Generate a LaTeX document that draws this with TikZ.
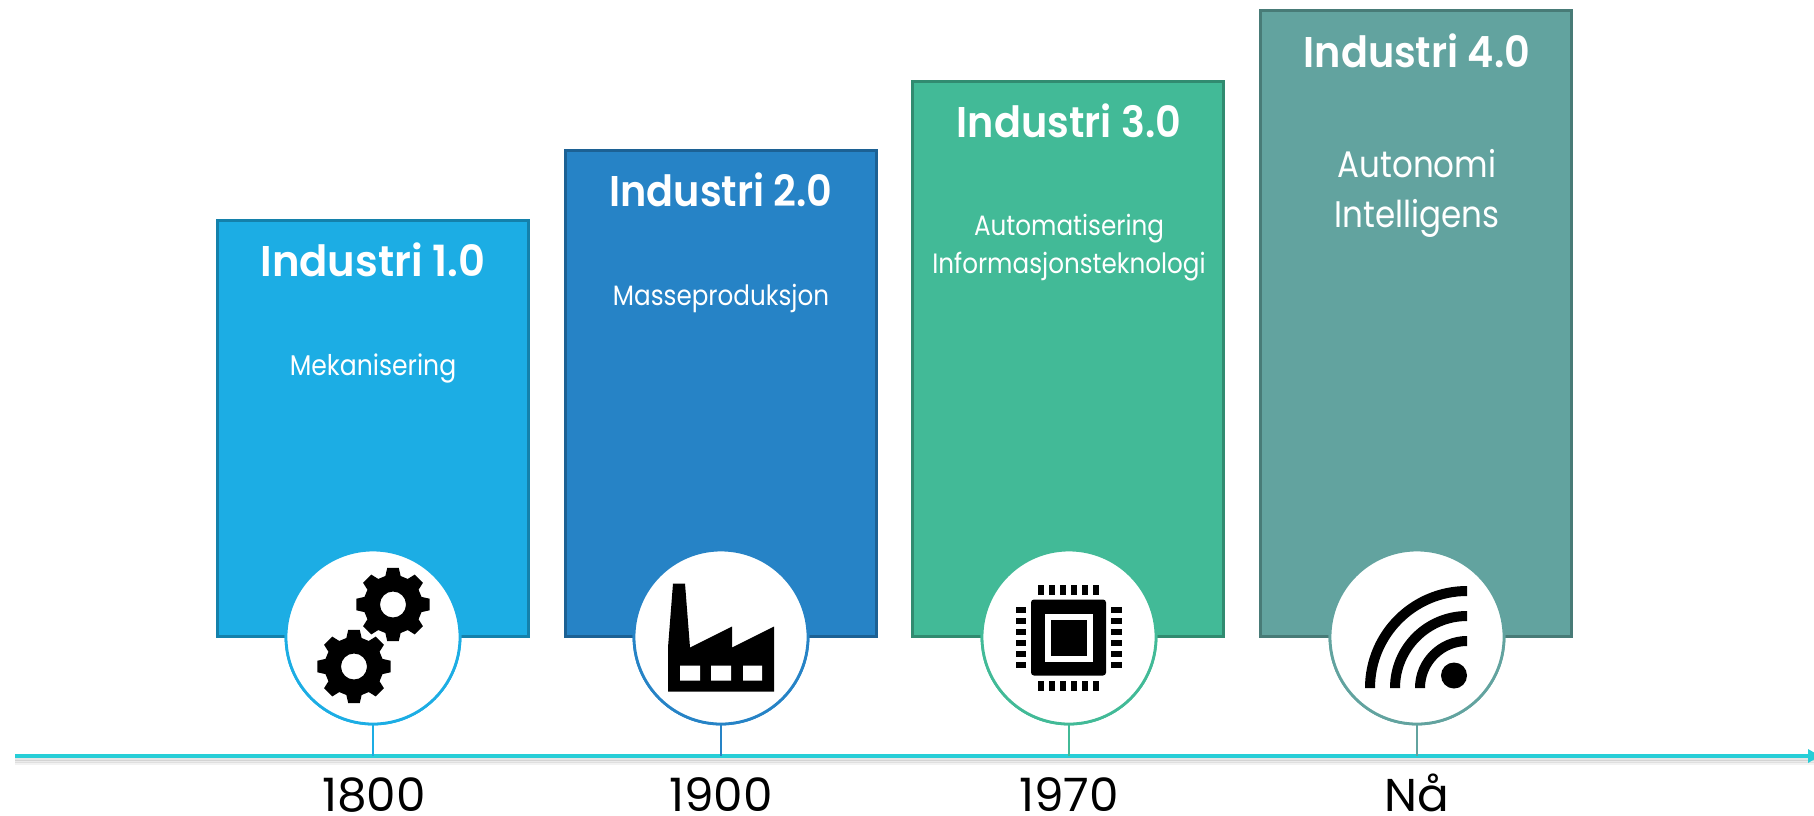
\documentclass[tikz,border=0pt]{standalone}
\usepackage{fontspec}
\newfontfamily\twreg[FakeStretch=0.88]{Poppins}
\newfontfamily\twyear[FakeStretch=1.02]{Poppins}
\newfontfamily\twbold[FakeStretch=0.97]{Poppins SemiBold}
\newfontfamily\twboldn[FakeStretch=0.925]{Poppins SemiBold}
\definecolor{cA}{HTML}{1CADE4}\definecolor{sA}{HTML}{1481AB}
\definecolor{cB}{HTML}{2683C6}\definecolor{sB}{HTML}{1C6194}
\definecolor{cC}{HTML}{42BA97}\definecolor{sC}{HTML}{318B70}
\definecolor{cD}{HTML}{62A39F}\definecolor{sD}{HTML}{487B77}
\definecolor{axis}{HTML}{27CED7}
\tikzset{
  panel/.style={draw=#1,line width=3pt,anchor=north west,inner sep=0pt,minimum width=311pt},
  disc/.style={circle,draw=#1,fill=white,line width=2.8pt,minimum size=174pt,inner sep=0pt},
  tick/.style={draw=#1,line width=1.3pt},
  head/.style={text=white,font=\twbold\fontsize{43}{43}\selectfont},
  headn/.style={text=white,font=\twboldn\fontsize{43}{43}\selectfont},
  sub/.style={text=white,font=\twreg\fontsize{#1}{#1}\selectfont},
  yearlab/.style={text=black,anchor=base,inner sep=0pt,text depth=0pt,font=\twyear\fontsize{46}{46}\selectfont},
  icon/.style={fill=black,draw=none}
}
\newcommand{\cog}[2]{%
  \begin{scope}[shift={(#1,#2)}]
  \fill[black,even odd rule]
    \foreach \a [count=\i from 0] in {0,45,...,315} {
      \ifnum\i=0 (\a-9:37) \else -- (\a-9:37) \fi
      -- (\a+9:37) -- (\a+15:29.5) -- (\a+30:29.5)
    } -- cycle
    (0,0) circle (13);
  \end{scope}}
\begin{document}
\begin{tikzpicture}[x=1pt,y=-1pt]
\useasboundingbox (0,0) rectangle (1814,816);
% panels
\node[panel=sA,fill=cA,minimum height=416pt] (p1) at (216,218.5) {};
\node[panel=sB,fill=cB,minimum height=486pt] (p2) at (564,148.5) {};
\node[panel=sC,fill=cC,minimum height=555pt] (p3) at (911,79.5) {};
\node[panel=sD,fill=cD,minimum height=625pt] (p4) at (1259,9.5) {};
% titles
\node[head] (t1) at (373,260) {Industri 1.0};
\node[headn] (t2) at (721,190) {Industri 2.0};
\node[headn] (t3) at (1069,121) {Industri 3.0};
\node[headn] (t4) at (1417,51) {Industri 4.0};
\node[sub=28.5] (s1) at (373,368) {Mekanisering};
\node[sub=28] (s2) at (721,298) {Masseproduksjon};
\node[sub=28] (s3a) at (1069,229) {Automatisering};
\node[sub=28] (s3b) at (1069,267) {Informasjonsteknologi};
\node[sub=37] (s4a) at (1417,164) {Autonomi};
\node[sub=37] (s4b) at (1417,218) {Intelligens};
% axis with soft shadow
\coordinate (axL) at (15,756);
\coordinate (axR) at (1814,756);
\foreach \d/\o in {3/0.10,5/0.08,7/0.05}
  \draw[black,opacity=\o,line width=3pt] ([yshift=-\d pt]axL) -- ([yshift=-\d pt]axR);
\draw[axis,line width=4.4pt] (axL) -- (axR);
\fill[axis] (1808,749) -- (1814,752.5) -- (1814,759.5) -- (1808,763) -- cycle;
% discs and ticks
\coordinate (a1) at (373,756);\coordinate (a2) at (721,756);
\coordinate (a3) at (1069,756);\coordinate (a4) at (1417,756);
\node[disc=cA] (d1) at (373,637) {};
\node[disc=cB] (d2) at (721,637) {};
\node[disc=cC] (d3) at (1069,637) {};
\node[disc=cD] (d4) at (1417,637) {};
\draw[tick=cA] (d1) -- (a1);
\draw[tick=cB] (d2) -- (a2);
\draw[tick=cC] (d3) -- (a3);
\draw[tick=cD] (d4) -- (a4);
\node[disc=cA] at (d1) {};
\node[disc=cB] at (d2) {};
\node[disc=cC] at (d3) {};
\node[disc=cD] at (d4) {};
% years
\node[yearlab] (y1) at (374,811) {1800};
\node[yearlab] (y2) at (721,811) {1900};
\node[yearlab] (y3) at (1069,811) {1970};
\node[yearlab] (y4) at (1417,811) {Nå};
\begin{scope}[yshift=1.5pt]
% gears
\cog{393}{606}
\cog{354}{668}
% factory
\fill[icon] (673,585) -- (685,585) -- (690,649) -- (732,628) -- (732,649) -- (774,628) -- (774,693) -- (668,693) -- (668,649) -- cycle;
\fill[white] (680,667) rectangle (700,682) (711,667) rectangle (731,682) (743,667) rectangle (762,682);
% chip
\fill[icon,rounded corners=3pt] (1031,601) rectangle (1106,677);
\fill[white] (1045,615) rectangle (1093,663);
\fill[icon] (1051,621) rectangle (1087,657);
\foreach \i in {0,...,5} {
  \fill[icon] (1038+11*\i,586) rectangle (1043.6+11*\i,596);
  \fill[icon] (1038+11*\i,682) rectangle (1043.6+11*\i,692);
  \fill[icon] (1016,608.5+11*\i) rectangle (1026,614.5+11*\i);
  \fill[icon] (1111,608.5+11*\i) rectangle (1122,614.5+11*\i);
}
% wifi
\foreach \r in {102,77,52}
  \fill[icon] (1467-\r,689.5) arc[start angle=180,end angle=270,radius=\r]
    -- ++(0,10) arc[start angle=270,end angle=180,radius=\r-10] -- cycle;
\fill[icon] (1454,677) circle (13);
\end{scope}
\end{tikzpicture}
\end{document}
